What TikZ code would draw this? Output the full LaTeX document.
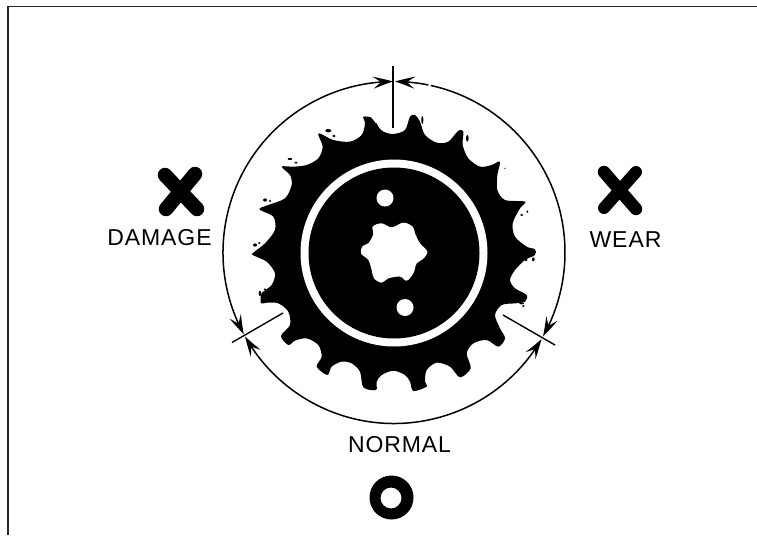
\documentclass[tikz,border=0pt]{standalone}
\usepackage{fontspec}
\setmainfont{Liberation Sans}
\usetikzlibrary{arrows.meta,bending}
\tikzset{
  ink/.style={fill=black,draw=none},
  dimarc/.style={line width=1.5pt,{Stealth[length=20pt,width=12pt,inset=8pt,bend]}-{Stealth[length=20pt,width=12pt,inset=8pt,bend]}},
  ticker/.style={line width=1.4pt},
  xmark/.style={line width=14.5pt,line cap=round},
  lbl/.style={font=\fontsize{23}{25}\selectfont\addfontfeature{LetterSpace=4},inner sep=0pt,text=black},
  speck/.style={fill=black,draw=none}
}
\begin{document}
\begin{tikzpicture}[x=1pt,y=1pt,yscale=-1]
\useasboundingbox (0,0) rectangle (757,535);
\fill[white] (0,0) rectangle (757,535);
% frame
\draw[line width=1.2pt,black!85] (8,535) -- (8,6.5) -- (757,6.5);
% sprocket body
\begin{scope}[shift={(210,60)},x=1/3*1pt,y=1/3*1pt]
\fill[ink] plot[smooth cycle,tension=0.5] coordinates {
(550,222)(585,210)(600,170)(615,165)(630,185)(645,225)(680,248)(715,245)(745,212)(760,215)
(758,255)(775,295)(810,320)(845,315)(870,305)(862,345)(862,390)(885,420)(945,425)(930,445)
(908,490)(915,530)(950,560)(975,568)(975,585)(945,600)(915,630)(900,660)(915,685)(950,705)
(945,725)(915,730)(875,735)(855,765)(870,805)(885,835)(865,860)(830,840)(790,850)(770,880)
(782,925)(750,952)(720,920)(680,908)(650,930)(645,965)(650,980)(610,993)(600,965)(585,945)
(550,932)(515,945)(500,965)(498,990)(460,982)(450,935)(425,910)(395,905)(365,920)(352,945)
(320,920)(335,890)(325,855)(290,835)(255,842)(235,855)(213,828)(240,795)(235,755)(205,730)
(170,728)(153,730)(155,700)(185,675)(195,640)(170,605)(128,585)(130,578)(165,550)(195,510)
(190,470)(148,448)(175,435)(225,415)(245,375)(240,345)(215,320)(250,320)(290,315)(325,295)
(338,260)(325,220)(370,240)(420,245)(455,225)(465,190)(460,170)(490,175)(505,200)(520,215)};
% worn-off flecks beside the teeth
\foreach \px/\py/\rx/\ry in {355/212/9/5,372/228/5/4,240/297/7/3,258/308/5/3,165/420/6/5,180/423/4/3,
  135/555/6/5,148/549/4/3,637/180/3/12,772/235/4/10,885/325/2/2,935/465/5/3,952/455/3/4,
  150/700/4/8,165/688/4/3,948/600/5/4,970/598/4/6,935/730/7/3,940/738/4/3}
  \fill[speck] (\px,\py) ellipse[x radius=\rx pt*1/3,y radius=\ry pt*1/3];
\fill[white] (484,172) -- (492,166) -- (504,186) -- (498,190) -- cycle;
\end{scope}
% hub ring and holes
\fill[white] (394,253) circle[radius=93.5pt];
\fill[ink] (394,253) circle[radius=85.5pt];
\fill[white] (385,198) circle[radius=8.5pt];
\fill[white] (405,307.5) circle[radius=8.5pt];
\begin{scope}[shift={(350,210)},x=1/3*1pt,y=1/3*1pt]
\fill[white] plot[smooth cycle,tension=0.6] coordinates {
(95,40)(125,52)(160,38)(188,50)(195,70)(210,100)(232,125)(218,148)(200,160)(190,190)(170,212)
(150,200)(115,205)(95,218)(72,205)(65,180)(55,150)(33,130)(38,108)(55,100)(70,72)(68,50)};
\end{scope}
% dimension arcs
\coordinate (c) at (394,252.5);
\draw[dimarc] (c) ++(151.4:171pt) arc[start angle=151.4,end angle=269.7,radius=171pt];
\draw[dimarc] (c) ++(270.3:171pt) arc[start angle=270.3,end angle=389.4,radius=171pt];
\draw[dimarc] (c) ++(30.4:171pt) arc[start angle=30.4,end angle=150.6,radius=171pt];
\draw[white,line width=3pt] (c) ++(-78.4:171pt) arc[start angle=-78.4,end angle=-77.6,radius=171pt];
% ticks
\coordinate (t1) at (393,66); \coordinate (t2) at (393,128);
\coordinate (l1) at (283,313); \coordinate (l2) at (232,342.5);
\coordinate (r1) at (503,315); \coordinate (r2) at (555,345);
\draw[ticker] (t1) -- (t2);
\draw[ticker] (l1) -- (l2);
\draw[ticker] (r1) -- (r2);
% marks
\draw[xmark] (165,175) -- (197,209);
\draw[xmark] (195,174) -- (166,209);
\draw[xmark,line width=12.5pt] (604,172) -- (636,209);
\draw[xmark,line width=12pt] (636,172) -- (604,208);
\fill[ink,even odd rule] (391.5,497.5) circle[radius=22pt] (391,498) circle[radius=10.5pt];
% labels
\node[lbl] (damage) at (159.5,238) {DAMAGE};
\node[lbl] (wear) at (625.5,240) {WEAR};
\node[lbl] (normal) at (399.5,445) {NORMAL};
\end{tikzpicture}
\end{document}
